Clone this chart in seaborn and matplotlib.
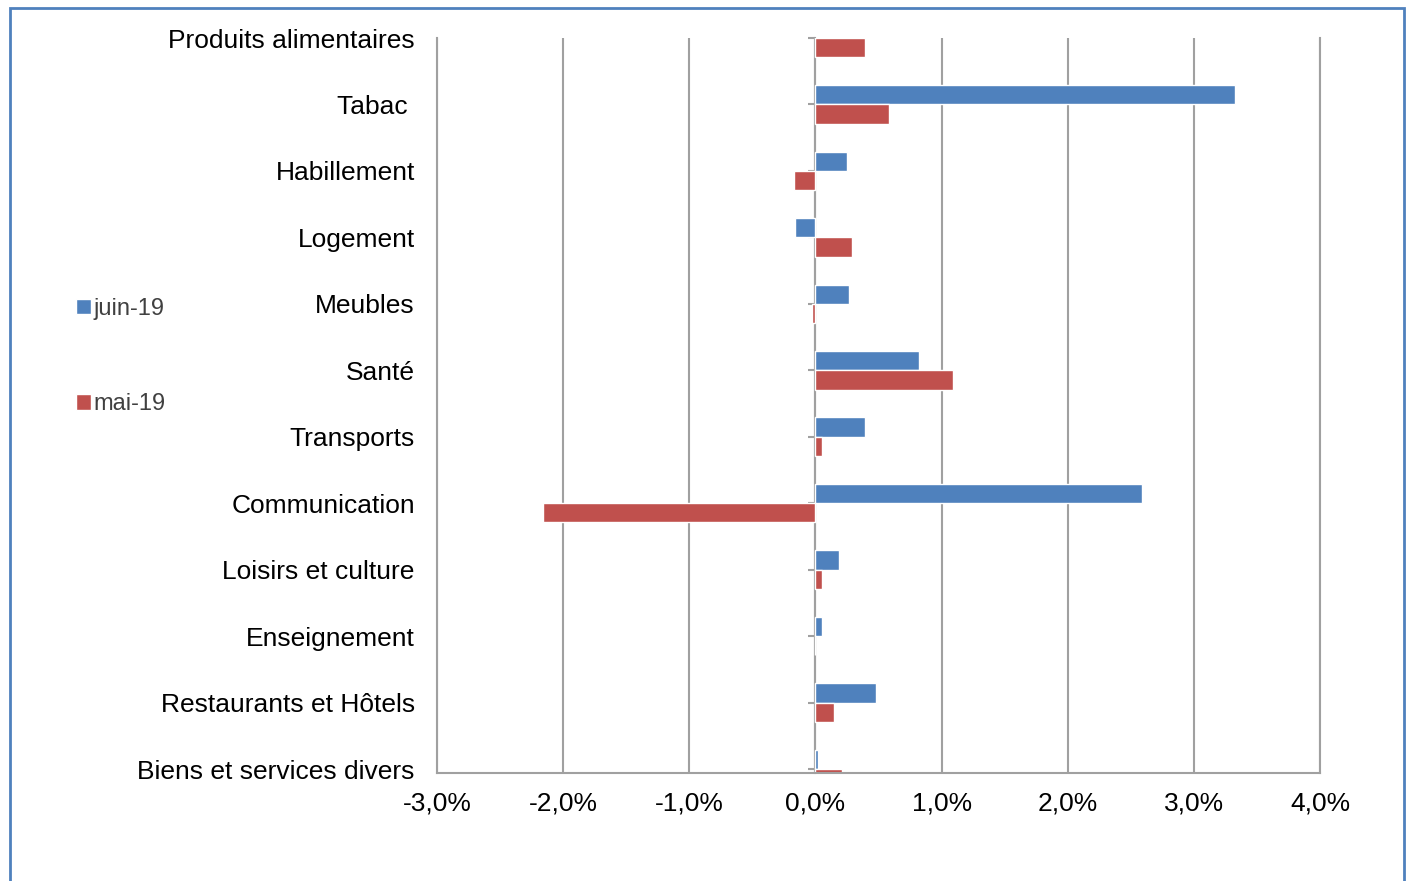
import pandas as pd
import numpy as np
import matplotlib
matplotlib.use('Agg')
import matplotlib.pyplot as plt
import seaborn as sns
from matplotlib.patches import Rectangle
from matplotlib.ticker import FuncFormatter, MultipleLocator

# Data (variation in %)
categories = ['Produits alimentaires', 'Tabac ', 'Habillement', 'Logement', 'Meubles',
              'Santé', 'Transports', 'Communication', 'Loisirs et culture',
              'Enseignement', 'Restaurants et Hôtels', 'Biens et services divers']
juin_19 = [0.00, 3.33, 0.25, -0.16, 0.27, 0.82, 0.39, 2.59, 0.19, 0.05, 0.48, 0.02]
mai_19 = [0.39, 0.58, -0.17, 0.29, -0.03, 1.09, 0.05, -2.16, 0.05, 0.00, 0.15, 0.21]
series = ['juin-19', 'mai-19']
colors = ['#4F81BD', '#C0504D']

df = pd.DataFrame({
    'Categorie': categories * 2,
    'Valeur': juin_19 + mai_19,
    'Serie': [series[0]] * len(categories) + [series[1]] * len(categories),
})

sns.set_style('white')
plt.rcParams['font.family'] = ['Liberation Sans', 'DejaVu Sans']

grid_col = '#A0A0A0'

fig = plt.figure(figsize=(14.08, 8.81), dpi=100)
ax = fig.add_axes([437 / 1408, 1 - 773 / 881, (1320 - 437) / 1408, (773 - 38) / 881])

sns.barplot(data=df, y='Categorie', x='Valeur', hue='Serie', hue_order=series,
            palette=colors, orient='h', width=0.58, saturation=1, errorbar=None,
            ax=ax)

ax.set_xlim(-3, 4)
ax.set_ylim(11.06, 0)
ax.xaxis.set_major_locator(MultipleLocator(1))
ax.xaxis.set_major_formatter(FuncFormatter(lambda v, p: f"{v:.1f}%".replace('.', ',')))
ax.set_xlabel('')
ax.set_ylabel('')

ax.xaxis.grid(True, color=grid_col, lw=1.5)
ax.yaxis.grid(False)
ax.set_axisbelow(True)

ax.spines['top'].set_visible(False)
for side in ['left', 'right', 'bottom']:
    ax.spines[side].set_color(grid_col)
    ax.spines[side].set_linewidth(1.5)

ax.tick_params(axis='y', length=0, pad=16, labelsize=19, labelcolor='black')
ax.tick_params(axis='x', direction='out', length=7, width=1.5, color=grid_col,
               pad=6, labelsize=19, labelcolor='black')

# vertical axis crossing at 0 with small ticks
sec = ax.secondary_yaxis(0, transform=ax.transData)
sec.set_yticks(range(len(categories)))
sec.tick_params(axis='y', length=5, width=1.5, color=grid_col, labelleft=False)
sec.spines['left'].set_color(grid_col)
sec.spines['left'].set_linewidth(1.5)

# legend on the left
handles, labels = ax.get_legend_handles_labels()
ax.get_legend().remove()
fig.legend(handles, labels, loc='upper left', bbox_to_anchor=(64 / 1408, 1 - 286 / 881),
           frameon=False, fontsize=17, handlelength=0.65, handleheight=0.65,
           handletextpad=0.1, labelspacing=3.1, borderpad=0, labelcolor='#404040')

# chart border
fig.patches.append(Rectangle((10 / 1408, -0.1), (1404 - 10) / 1408, 1 - 8 / 881 + 0.1,
                             transform=fig.transFigure, fill=False,
                             edgecolor='#4F81BD', lw=2))

fig.savefig('out.png', dpi=100)
